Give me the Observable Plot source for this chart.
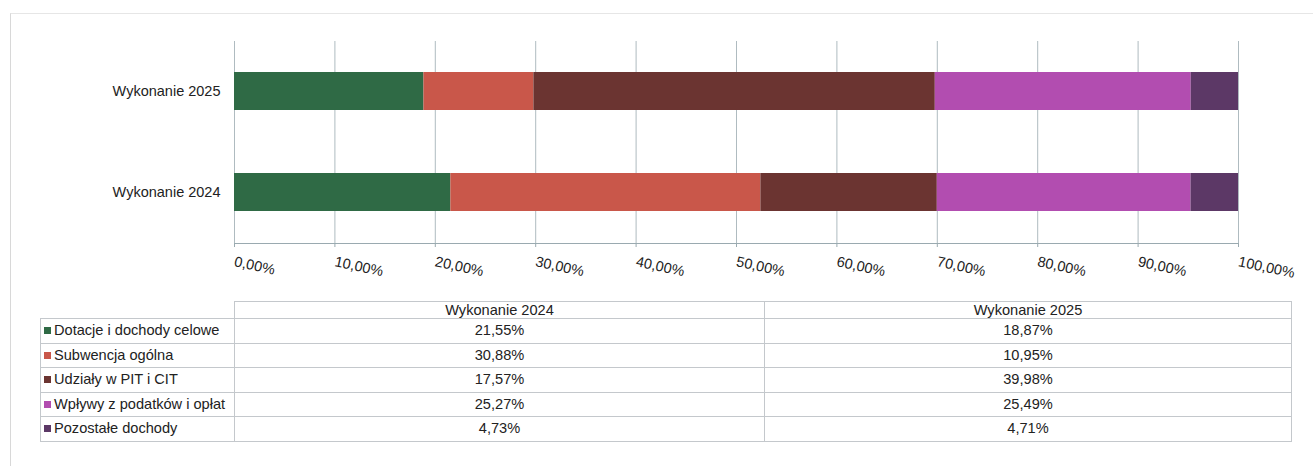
<!DOCTYPE html>
<html>
<head>
<meta charset="utf-8">
<script src="https://cdn.jsdelivr.net/npm/d3@7"></script>
<script src="https://cdn.jsdelivr.net/npm/@observablehq/plot@0.6"></script>
<style>
  html, body { margin: 0; padding: 0; background: #fff; }
  body { width: 1313px; height: 466px; overflow: hidden; position: relative; font-family: "Liberation Sans", Arial, sans-serif; }
  #frame { position: absolute; left: 10px; top: 13px; width: 1320px; height: 470px; border-left: 1px solid #d8d8d8; border-top: 1px solid #e6e6e6; }
  #chart { position: absolute; left: 0; top: 0; }
  #tbl { position: absolute; left: 40px; top: 301px; border-collapse: collapse; font-size: 14.6px; color: #222; table-layout: fixed; width: 1251px; }
  #tbl td { border: 1px solid #c4c8cc; padding: 0; height: 23.5px; line-height: 23px; }
  #tbl thead td { height: 16px; line-height: 15px; text-align: center; }
  #tbl thead td.empty { border: none; border-bottom: 1px solid #c4c8cc; }
  #tbl td.lab { padding-left: 3px; white-space: nowrap; text-align: left; }
  #tbl td.val { text-align: center; }
  .sw { display: inline-block; width: 7px; height: 7px; margin-right: 3px; vertical-align: 1px; }
</style>
</head>
<body>
<div id="frame"></div>
<div id="chart"></div>
<table id="tbl"></table>
<script>
const categories = ["Dotacje i dochody celowe", "Subwencja ogólna", "Udziały w PIT i CIT", "Wpływy z podatków i opłat", "Pozostałe dochody"];
const series = ["Wykonanie 2024", "Wykonanie 2025"];
const values2024 = [21.55, 30.88, 17.57, 25.27, 4.73];
const values2025 = [18.87, 10.95, 39.98, 25.49, 4.71];
const colors = ["#2f6a45", "#c9574a", "#6b3431", "#b24db0", "#5c3866"];
const xTicks = [0, 10, 20, 30, 40, 50, 60, 70, 80, 90, 100];

const fmt = v => v.toFixed(2).replace(".", ",") + "%";

const data = [];
series.forEach((s, si) => {
  const vals = si === 0 ? values2024 : values2025;
  categories.forEach((c, ci) => data.push({series: s, category: c, value: vals[ci]}));
});

const chart = Plot.plot({
  width: 1313,
  height: 290,
  marginLeft: 234,
  marginRight: 75,
  marginTop: 41,
  marginBottom: 47,
  style: {fontFamily: "'Liberation Sans', Arial, sans-serif", fontSize: "14px", color: "#222", background: "transparent"},
  x: {domain: [0, 100], axis: null, label: null},
  y: {domain: ["Wykonanie 2025", "Wykonanie 2024"], paddingInner: 0.62, paddingOuter: 0.31, axis: null, label: null},
  color: {domain: categories, range: colors},
  marks: [
    Plot.gridX(xTicks, {stroke: "#9aaab0", strokeOpacity: 1, strokeWidth: 0.8}),
    Plot.barX(data, Plot.stackX({y: "series", x: "value", fill: "category", order: null})),
    Plot.frame({anchor: "bottom", stroke: "#9aaab0"}),
    Plot.axisX(xTicks, {
      label: null,
      tickSize: 4,
      stroke: "#9aaab0",
      tickFormat: fmt,
      tickRotate: 12,
      textAnchor: "start",
      tickPadding: 14,
      fontSize: 14.5,
      fill: "#222"
    }),
    Plot.axisY({label: null, tickSize: 0, tickPadding: 14, fontSize: 14.5, fill: "#222"})
  ]
});
document.getElementById("chart").appendChild(chart);

// table
const tbl = d3.select("#tbl");
const cg = tbl.append("colgroup");
[194, 530, 527].forEach(w => cg.append("col").style("width", w + "px"));
const head = tbl.append("thead").append("tr");
head.append("td").attr("class", "empty");
series.forEach(s => head.append("td").attr("class", "val").text(s));
const body = tbl.append("tbody");
categories.forEach((c, i) => {
  const tr = body.append("tr");
  const lab = tr.append("td").attr("class", "lab");
  lab.append("span").attr("class", "sw").style("background", colors[i]);
  lab.append("span").text(c);
  tr.append("td").attr("class", "val").text(fmt(values2024[i]));
  tr.append("td").attr("class", "val").text(fmt(values2025[i]));
});
</script>
</body>
</html>
